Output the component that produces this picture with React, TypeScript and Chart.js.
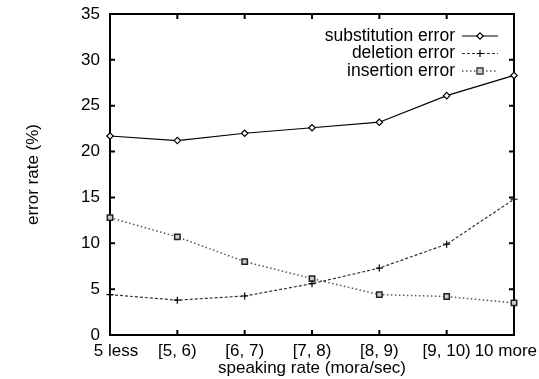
import React, { useEffect, useRef } from "react";
import { Chart, registerables } from "chart.js";

Chart.register(...registerables);

const categories = ["5 less", "[5, 6)", "[6, 7)", "[7, 8)", "[8, 9)", "[9, 10)", "10 more"];
const substitution = [21.7, 21.2, 22.0, 22.6, 23.2, 26.1, 28.3];
const deletion = [4.4, 3.8, 4.25, 5.6, 7.3, 9.9, 14.8];
const insertion = [12.8, 10.7, 8.0, 6.15, 4.4, 4.2, 3.5];
const yTicks = [0, 5, 10, 15, 20, 25, 30, 35];

const FONT = "'Liberation Sans', Arial, sans-serif";

const framePlugin = {
  id: "frame",
  beforeDatasetsDraw(chart: any) {
    const { ctx, chartArea: a } = chart;
    const xs = chart.scales.x;
    const ys = chart.scales.y;
    ctx.save();
    ctx.strokeStyle = "#000";
    ctx.lineWidth = 2;
    ctx.strokeRect(a.left, a.top, a.right - a.left, a.bottom - a.top);
    ctx.beginPath();
    for (let i = 1; i < categories.length - 1; i++) {
      const x = xs.getPixelForValue(i);
      ctx.moveTo(x, a.bottom);
      ctx.lineTo(x, a.bottom - 5);
      ctx.moveTo(x, a.top);
      ctx.lineTo(x, a.top + 5);
    }
    for (const v of yTicks) {
      if (v === 0 || v === 35) continue;
      const y = ys.getPixelForValue(v);
      ctx.moveTo(a.left, y);
      ctx.lineTo(a.left + 5, y);
      ctx.moveTo(a.right, y);
      ctx.lineTo(a.right - 5, y);
    }
    ctx.stroke();

    // x category labels (last one kept inside the canvas)
    ctx.fillStyle = "#000";
    ctx.font = `17px ${FONT}`;
    ctx.textBaseline = "top";
    categories.forEach((c, i) => {
      const x = xs.getPixelForValue(i);
      const last = i === categories.length - 1;
      ctx.textAlign = last ? "right" : "center";
      const px = last ? chart.width - 2 : i === 0 ? x + 6 : x;
      ctx.fillText(c, px, a.bottom + 8);
    });
    ctx.restore();
  },
  afterDatasetsDraw(chart: any) {
    const { ctx } = chart;
    ctx.save();
    ctx.font = `17.5px ${FONT}`;
    ctx.textAlign = "right";
    ctx.textBaseline = "middle";
    chart.data.datasets.forEach((ds: any, i: number) => {
      const y = 36 + i * 17.5;
      ctx.fillStyle = "#000";
      ctx.fillText(ds.label, 455, y);
      ctx.strokeStyle = ds.borderColor;
      ctx.lineWidth = ds.borderWidth;
      ctx.setLineDash(ds.borderDash || []);
      ctx.beginPath();
      ctx.moveTo(462, y);
      ctx.lineTo(498, y);
      ctx.stroke();
      ctx.setLineDash([]);
      const cx = 480;
      ctx.lineWidth = 1.2;
      ctx.strokeStyle = ds.pointBorderColor;
      ctx.fillStyle = ds.pointBackgroundColor;
      const r = ds.pointRadius;
      ctx.beginPath();
      if (ds.pointStyle === "rectRot") {
        ctx.moveTo(cx, y - r);
        ctx.lineTo(cx + r, y);
        ctx.lineTo(cx, y + r);
        ctx.lineTo(cx - r, y);
        ctx.closePath();
        ctx.fill();
        ctx.stroke();
      } else if (ds.pointStyle === "cross") {
        ctx.moveTo(cx - r, y);
        ctx.lineTo(cx + r, y);
        ctx.moveTo(cx, y - r);
        ctx.lineTo(cx, y + r);
        ctx.stroke();
      } else {
        ctx.rect(cx - r * 0.8, y - r * 0.8, r * 1.6, r * 1.6);
        ctx.fill();
        ctx.stroke();
      }
    });
    ctx.restore();
  },
};

export default function App() {
  const ref = useRef<HTMLCanvasElement>(null);
  useEffect(() => {
    if (!ref.current) return;
    const chart = new Chart(ref.current, {
      type: "line",
      data: {
        labels: categories,
        datasets: [
          {
            label: "substitution error",
            data: substitution,
            borderColor: "#000",
            borderWidth: 1.2,
            pointStyle: "rectRot",
            pointRadius: 3.2,
            pointBorderWidth: 1.2,
            pointBorderColor: "#000",
            pointBackgroundColor: "#fff",
            clip: false,
          } as any,
          {
            label: "deletion error",
            data: deletion,
            borderColor: "#333",
            borderWidth: 1.2,
            borderDash: [3, 2],
            pointStyle: "cross",
            pointRadius: 3.5,
            pointBorderWidth: 1.2,
            pointBorderColor: "#000",
            pointBackgroundColor: "#000",
            clip: false,
          } as any,
          {
            label: "insertion error",
            data: insertion,
            borderColor: "#555",
            borderWidth: 1.5,
            borderDash: [1.5, 2.5],
            pointStyle: "rect",
            pointRadius: 3.8,
            pointBorderWidth: 1.5,
            pointBorderColor: "#222",
            pointBackgroundColor: "#ccc",
            clip: false,
          } as any,
        ],
      },
      options: {
        animation: false,
        responsive: false,
        layout: { padding: { left: 0, right: 25, top: 14, bottom: 0 } },
        plugins: { legend: { display: false }, tooltip: { enabled: false } },
        scales: {
          x: {
            type: "category",
            offset: false,
            grid: { display: false, drawTicks: false },
            border: { display: false },
            ticks: { display: false, autoSkip: false },
            title: {
              display: true,
              text: "speaking rate (mora/sec)",
              color: "#000",
              font: { family: FONT, size: 17 },
              padding: { top: 0, bottom: 0 },
            },
            afterFit: (s: any) => {
              s.height = 44;
              s.paddingLeft = 0;
              s.paddingRight = 0;
            },
          },
          y: {
            min: 0,
            max: 35,
            grid: { display: false, drawTicks: false },
            border: { display: false },
            ticks: {
              stepSize: 5,
              color: "#000",
              font: { family: FONT, size: 17 },
              padding: 10,
            },
            title: {
              display: true,
              text: "error rate (%)",
              color: "#000",
              font: { family: FONT, size: 17 },
              padding: { top: 23, bottom: 0 },
            },
            afterFit: (s: any) => {
              s.width = 110;
              s.paddingTop = 0;
              s.paddingBottom = 0;
            },
          },
        },
      },
      plugins: [framePlugin],
    });
    return () => chart.destroy();
  }, []);
  return (
    <div style={{ position: "absolute", left: 0, top: 0, width: 539, height: 379, background: "#fff" }}>
      <canvas ref={ref} width={539} height={379} style={{ display: "block" }} />
    </div>
  );
}
